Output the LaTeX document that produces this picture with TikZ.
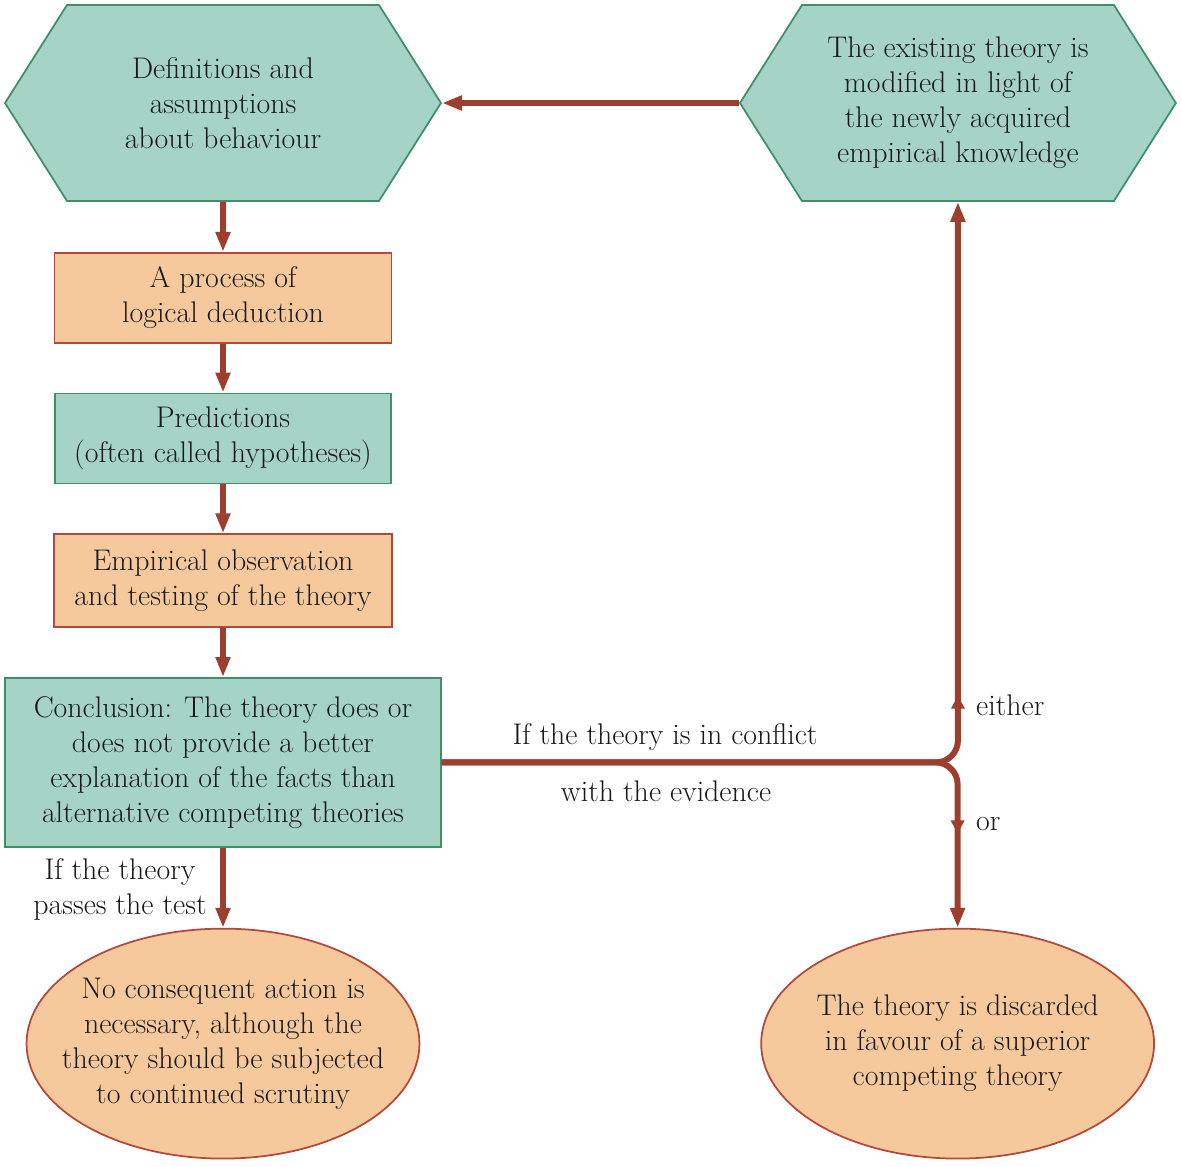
\documentclass[tikz,border=0pt]{standalone}
\usepackage{tikz}
\usetikzlibrary{arrows.meta}
\usetikzlibrary{shapes.geometric,shapes.symbols,decorations.markings,positioning}
\definecolor{tealfill}{HTML}{A5D4C6}
\definecolor{tealline}{HTML}{3F8F68}
\definecolor{orangefill}{HTML}{F5C99C}
\definecolor{orangeline}{HTML}{B4483A}
\definecolor{arrowred}{HTML}{9C3F2E}
\tikzset{hexbox/.style={draw=tealline, fill=tealfill, line width=1pt, signal, signal to=east and west, signal pointer angle=115.4, minimum width=8.72cm, minimum height=3.92cm, inner sep=0pt, align=center}}
\tikzset{tealbox/.style={draw=tealline, fill=tealfill, line width=1pt, rectangle, align=center}}
\tikzset{orangebox/.style={draw=orangeline, fill=orangefill, line width=1pt, rectangle, align=center}}
\tikzset{outcome/.style={draw=orangeline, fill=orangefill, line width=1pt, ellipse, minimum width=7.86cm, minimum height=4.6cm, inner xsep=-0.45cm, inner ysep=0pt, align=center}}
\tikzset{line/.style={draw=arrowred, line width=3.4pt, -{Triangle[length=0.4cm, width=0.28cm]}}}
\tikzset{midarrow/.style={postaction={decorate}, decoration={markings, mark=at position #1 with {\arrow{Triangle[length=0.26cm, width=0.26cm]}}}}}
\begin{document}
\begin{tikzpicture}[x=0.02cm, y=-0.02cm, font=\fontsize{17}{19.9}\selectfont, text=black!90]
			\useasboundingbox (0,0) rectangle (1182,1166);
			\node [hexbox]                       at (223,103) (hexA)   {Definitions and\\ assumptions\\ about behaviour};
			\node [hexbox, right=5.94cm of hexA]           (hexB)   {The existing theory is\\ modified in light of\\ the newly acquired\\ empirical knowledge};
			\node [orangebox, minimum width=6.74cm, minimum height=1.8cm, below=1.0cm of hexA]   (deduce)  {A process of\\ logical deduction};
			\node [tealbox, minimum width=6.72cm, minimum height=1.8cm, below=0.98cm of deduce]  (predict) {Predictions\\ (often called hypotheses)};
			\node [orangebox, minimum width=6.76cm, minimum height=1.86cm, below=0.98cm of predict] (observe) {Empirical observation\\ and testing of the theory};
			\node [tealbox, minimum width=8.72cm, minimum height=3.38cm, below=0.98cm of observe]  (concl)   {Conclusion: The theory does or\\ does not provide a better\\ explanation of the facts than\\ alternative competing theories};
			\node [outcome, below=1.6cm of concl]          (ellA)   {No consequent action is\\ necessary, although the\\ theory should be subjected\\ to continued scrutiny};
			\node [outcome, right=6.8cm of ellA]            (ellB)   {The theory is discarded\\ in favour of a superior\\ competing theory};
			%
			\node [align=center] (passes) at (120,889) {If the theory\\ passes the test};
			\node (conflict) at (665,737) {If the theory is in conflict};
			\node (evidence) at (666,791) {with the evidence};
			\node [anchor=west] (either) at (970,705) {either};
			\node [anchor=west] (orlbl)  at (970,824) {or};
			%
			\path [line] (hexA) -- (deduce);
			\path [line] (deduce) -- (predict);
			\path [line] (predict) -- (observe);
			\path [line] (observe) -- (concl);
			\path [line] (concl) -- (ellA);
			\path [line] (hexB) -- (hexA);
			\path [line, rounded corners=0.44cm, midarrow=11.47cm] (concl.east) -| (hexB.south);
			\path [line, rounded corners=0.44cm, midarrow=11.55cm] (concl.east) -| (ellB.north);
			\end{tikzpicture}
\end{document}
